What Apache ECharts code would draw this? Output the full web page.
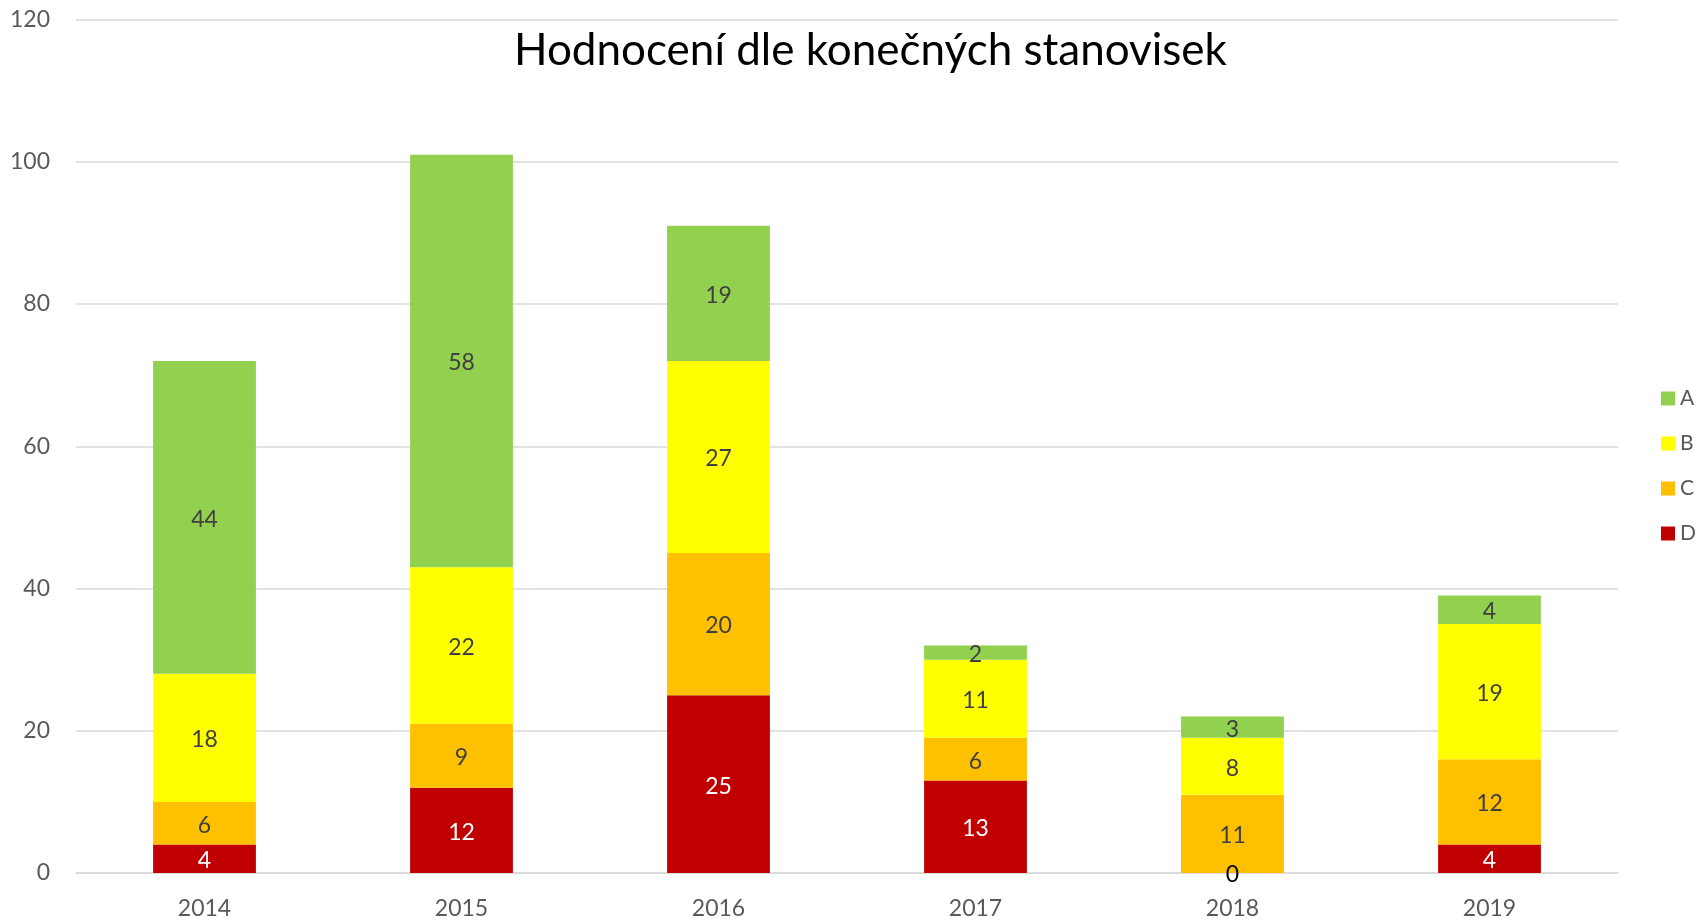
<!DOCTYPE html>
<html><head><meta charset="utf-8">
<script src="https://cdn.jsdelivr.net/npm/echarts@6/dist/echarts.min.js"></script>
<style>html,body{margin:0;padding:0;background:#fff}#c{width:1705px;height:920px}</style>
</head><body><div id="c"></div>
<script>
const years = ['2014','2015','2016','2017','2018','2019'];
const seriesA = [44, 58, 19, 2, 3, 4];
const seriesB = [18, 22, 27, 11, 8, 19];
const seriesC = [6, 9, 20, 6, 11, 12];
const seriesD = [4, 12, 25, 13, 0, 4];
const titleText = 'Hodnocení dle konečných stanovisek';

const FONT = 'Lato, "Open Sans", sans-serif';
function mk(name, data, color, labelColor) {
  return {
    name, type: 'bar', stack: 'total', barWidth: '40%',
    itemStyle: { color },
    label: { show: true, position: 'inside', offset: [0, 2], color: labelColor, fontSize: 23, fontFamily: FONT },
    data: data.map(v => v === 0 ? { value: v, label: { color: '#000' } } : v)
  };
}
const chart = echarts.init(document.getElementById('c'));
chart.setOption({
  animation: false,
  title: { text: titleText, left: 509, top: 24, textStyle: { fontFamily: FONT, fontSize: 44, fontWeight: 'normal', color: '#000' } },
  grid: { left: 76, right: 87, top: 19.5, bottom: 47 },
  legend: {
    data: ['A','B','C','D'], orient: 'vertical', left: 1656, top: 383,
    itemWidth: 14, itemHeight: 14, itemGap: 24, icon: 'rect',
    textStyle: { fontFamily: FONT, fontSize: 21, color: '#595959' }
  },
  xAxis: {
    type: 'category', data: years,
    axisLine: { lineStyle: { color: '#d9d9d9', width: 1.5 } },
    axisTick: { show: false },
    axisLabel: { fontFamily: FONT, fontSize: 23, color: '#595959', margin: 24 }
  },
  yAxis: {
    type: 'value', min: 0, max: 120, interval: 20,
    axisLine: { show: false }, axisTick: { show: false },
    splitLine: { lineStyle: { color: '#d9d9d9', width: 1.5 } },
    axisLabel: { fontFamily: FONT, fontSize: 23, color: '#595959', margin: 26 }
  },
  series: [
    mk('D', seriesD, '#C00000', '#fff'),
    mk('C', seriesC, '#FFC000', '#404040'),
    mk('B', seriesB, '#FFFF00', '#404040'),
    mk('A', seriesA, '#92D050', '#404040')
  ]
});
</script></body></html>
